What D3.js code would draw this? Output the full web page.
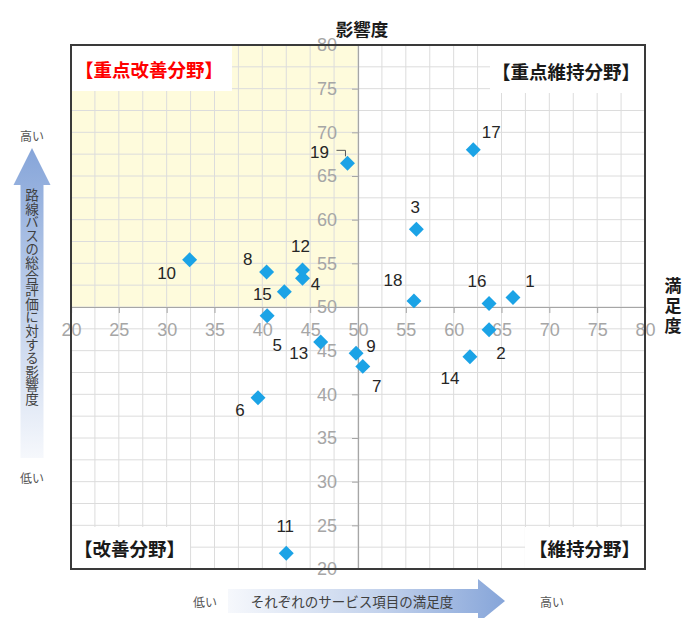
<!DOCTYPE html>
<html><head><meta charset="utf-8">
<script src="https://cdn.jsdelivr.net/npm/d3@7"></script>
<style>
body{margin:0;background:#fff;}
svg{display:block;}
</style></head>
<body>
<svg id="chart" width="684" height="618"></svg>
<script>
// ---- data ----
const itemIds = [1,2,3,4,5,6,7,8,9,10,11,12,13,14,15,16,17,18,19];
const satisfaction = [66.2,63.7,56.1,44.2,40.5,39.55,50.5,40.45,49.8,32.4,42.5,44.2,46.1,61.7,42.3,63.7,62.05,55.85,48.9];
const impact = [51.1,47.4,58.9,53.3,49.0,39.6,43.2,54.0,44.7,55.4,21.8,54.25,46.0,44.3,51.75,50.4,68.0,50.7,66.45];
const xTicks = [20,25,30,35,40,45,50,55,60,65,70,75,80];
const yTicks = [20,25,30,35,40,45,50,55,60,65,70,75,80];
const quadrantLabels = ["【重点改善分野】","【重点維持分野】","【改善分野】","【維持分野】"];
const yTitle = "影響度";
const xTitle = "満足度";
const leftArrowText = "路線バスの総合評価に対する影響度";
const bottomArrowText = "それぞれのサービス項目の満足度";
const highLow = ["高い","低い"];

// label offsets (layout, px)
const labelOffsets = {1:[17,-16],2:[12,24],3:[-1,-22],4:[13,6],5:[10,30],6:[-18,13],7:[14,20],8:[-19,-13],9:[15,-7],10:[-23,14],11:[-1,-27],12:[-2,-23],13:[-22,12],14:[-20,22],15:[-22,3],16:[-12,-22],17:[18,-17],18:[-21,-20],19:[-28,-11]};

const svg = d3.select("#chart");
const L=71, R=645, T=45, B=569;
const x = d3.scaleLinear().domain([20,80]).range([L,R]);
const y = d3.scaleLinear().domain([20,80]).range([B,T]);
const cjk = "'Noto Sans CJK JP', sans-serif";
const num = "'Liberation Sans', Arial, sans-serif";

const defs = svg.append("defs");
const gV = defs.append("linearGradient").attr("id","gv").attr("x1",0).attr("y1",0).attr("x2",0).attr("y2",1);
gV.append("stop").attr("offset","0%").attr("stop-color","#86a5d9");
gV.append("stop").attr("offset","45%").attr("stop-color","#b9cbe9");
gV.append("stop").attr("offset","100%").attr("stop-color","#f6f8fc");
const gH = defs.append("linearGradient").attr("id","gh").attr("x1",0).attr("y1",0).attr("x2",1).attr("y2",0);
gH.append("stop").attr("offset","0%").attr("stop-color","#f6f8fc");
gH.append("stop").attr("offset","55%").attr("stop-color","#c3d2ec");
gH.append("stop").attr("offset","100%").attr("stop-color","#86a5d9");

// yellow quadrant
svg.append("rect").attr("x",x(20)).attr("y",y(80)).attr("width",x(50)-x(20)).attr("height",y(50)-y(80)).attr("fill","#fefbdc");

// grid
const gridVals = d3.range(20,80.01,2.5);
svg.append("g").selectAll("line").data(gridVals).join("line")
  .attr("x1",d=>x(d)).attr("x2",d=>x(d)).attr("y1",T).attr("y2",B)
  .attr("stroke","#dcdcdc").attr("stroke-width",1);
svg.append("g").selectAll("line").data(gridVals).join("line")
  .attr("y1",d=>y(d)).attr("y2",d=>y(d)).attr("x1",L).attr("x2",R)
  .attr("stroke","#dcdcdc").attr("stroke-width",1);

// white label boxes
const boxes = [[L,T,232-L,46],[490,T,R-490,48],[L,527,190-L,B-527],[525,527,R-525,B-527]];
svg.append("g").selectAll("rect").data(boxes).join("rect")
  .attr("x",d=>d[0]).attr("y",d=>d[1]).attr("width",d=>d[2]).attr("height",d=>d[3]).attr("fill","#fff");

// axes
const xAxis = svg.append("g").attr("transform",`translate(0,${y(50)})`)
  .call(d3.axisBottom(x).tickValues(xTicks).tickSize(6).tickPadding(10));
const yAxis = svg.append("g").attr("transform",`translate(${x(50)},0)`)
  .call(d3.axisLeft(y).tickValues(yTicks).tickSize(6).tickPadding(15));
[xAxis,yAxis].forEach(a=>{
  a.select(".domain").attr("stroke","#a6a6a6").attr("stroke-width",1.2);
  a.selectAll(".tick line").attr("stroke","#a6a6a6");
  a.selectAll(".tick text").attr("fill","#a6a6a6").style("font-family",num).style("font-size","18px");
});

// quadrant labels
const ql = [
  {t:quadrantLabels[0],x:75,y:69,a:"start",c:"#ff0000"},
  {t:quadrantLabels[1],x:640,y:71,a:"end",c:"#1a1a1a"},
  {t:quadrantLabels[2],x:74,y:548,a:"start",c:"#1a1a1a"},
  {t:quadrantLabels[3],x:640,y:548,a:"end",c:"#1a1a1a"}];
svg.append("g").selectAll("text").data(ql).join("text")
  .attr("x",d=>d.x).attr("y",d=>d.y).attr("text-anchor",d=>d.a).attr("dominant-baseline","central")
  .attr("fill",d=>d.c).style("font-family",cjk).style("font-weight",700).style("font-size","18.5px")
  .text(d=>d.t);

// points
const pts = itemIds.map((id,i)=>({id, sx:satisfaction[i], im:impact[i]}));
svg.append("g").selectAll("path").data(pts).join("path")
  .attr("d",d3.symbol(d3.symbolSquare,112)())
  .attr("transform",d=>`translate(${x(d.sx)},${y(d.im)}) rotate(45)`)
  .attr("fill","#1ba3e6");
svg.append("g").selectAll("text").data(pts).join("text")
  .attr("x",d=>x(d.sx)+labelOffsets[d.id][0]).attr("y",d=>y(d.im)+labelOffsets[d.id][1])
  .attr("text-anchor","middle").attr("dominant-baseline","central")
  .attr("fill","#262626").style("font-family",num).style("font-size","17px")
  .text(d=>d.id);
// leader for 19
const p19 = pts.find(d=>d.id===19);
svg.append("path")
  .attr("d",`M${x(p19.sx)-11},${y(p19.im)-13} H${x(p19.sx)-2} V${y(p19.im)-7}`)
  .attr("fill","none").attr("stroke","#595959").attr("stroke-width",1);

// frame
svg.append("rect").attr("x",L).attr("y",T).attr("width",R-L).attr("height",B-T)
  .attr("fill","none").attr("stroke","#3a3a3a").attr("stroke-width",2);

// titles
svg.append("text").attr("x",362).attr("y",28).attr("text-anchor","middle").attr("dominant-baseline","central")
  .style("font-family",cjk).style("font-weight",700).style("font-size","17.5px").attr("fill","#1a1a1a").text(yTitle);
svg.append("text").attr("x",673).attr("y",277)
  .style("writing-mode","vertical-rl").style("letter-spacing","3px")
  .style("font-family",cjk).style("font-weight",700).style("font-size","17px").attr("fill","#1a1a1a").text(xTitle);

// left arrow
const cx=32, aTop=148, hBase=185, aBot=458, sw=11.5, hw=18.5;
svg.append("path").attr("d",`M${cx-sw},${aBot} V${hBase} H${cx-hw} L${cx},${aTop} L${cx+hw},${hBase} H${cx+sw} V${aBot} Z`)
  .attr("fill","url(#gv)");
svg.append("text").attr("x",cx).attr("y",188)
  .style("writing-mode","vertical-rl").style("font-family",cjk).style("font-size","13.6px")
  .attr("fill","#404040").text(leftArrowText);
svg.append("text").attr("x",cx).attr("y",135).attr("text-anchor","middle").attr("dominant-baseline","central")
  .style("font-family",cjk).style("font-size","12px").attr("fill","#555").text(highLow[0]);
svg.append("text").attr("x",cx).attr("y",477).attr("text-anchor","middle").attr("dominant-baseline","central")
  .style("font-family",cjk).style("font-size","12px").attr("fill","#555").text(highLow[1]);

// bottom arrow
const cy=601, bL=228, bHead=478, bTip=505, sh=12, hh=22;
svg.append("path").attr("d",`M${bL},${cy-sh} H${bHead} V${cy-hh} L${bTip},${cy} L${bHead},${cy+hh} V${cy+sh} H${bL} Z`)
  .attr("fill","url(#gh)");
svg.append("text").attr("x",352).attr("y",cy).attr("text-anchor","middle").attr("dominant-baseline","central")
  .style("font-family",cjk).style("font-size","13.5px").attr("fill","#404040").text(bottomArrowText);
svg.append("text").attr("x",205).attr("y",cy).attr("text-anchor","middle").attr("dominant-baseline","central")
  .style("font-family",cjk).style("font-size","12px").attr("fill","#555").text(highLow[1]);
svg.append("text").attr("x",552).attr("y",cy).attr("text-anchor","middle").attr("dominant-baseline","central")
  .style("font-family",cjk).style("font-size","12px").attr("fill","#555").text(highLow[0]);
</script>
</body></html>
